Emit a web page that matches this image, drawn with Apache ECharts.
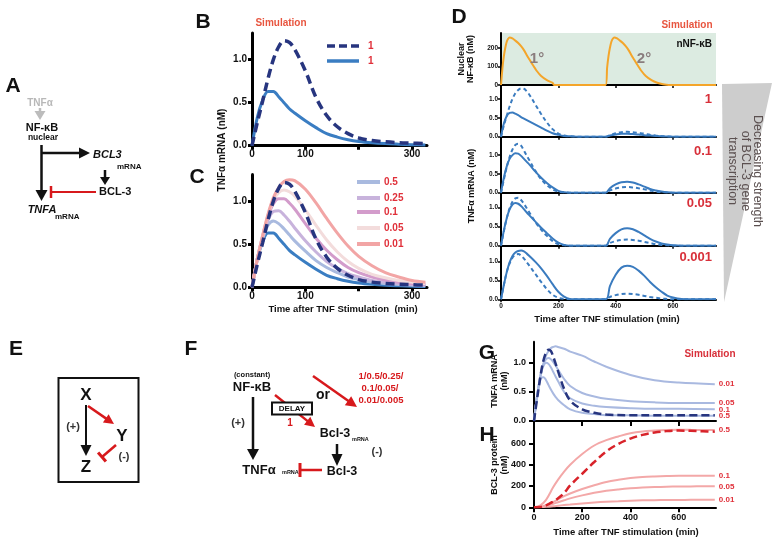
<!DOCTYPE html>
<html><head><meta charset="utf-8">
<script src="https://cdn.jsdelivr.net/npm/echarts@6/dist/echarts.min.js"></script>
<style>html,body{margin:0;padding:0;background:#fff}#c{width:772px;height:545px}</style>
</head><body><div id="c"></div>
<script>
// ---------- DATA ----------
// Panels B / C : TNFa mRNA (nM) vs time (min)
const tBC = [0,10,20,30,40,50,60,70,80,100,120,140,160,180,200,225,250,275,300,325];
const bcDelay = [0,0.27,0.52,0.78,1.0,1.15,1.22,1.2,1.12,0.87,0.56,0.35,0.22,0.14,0.09,0.06,0.045,0.035,0.03,0.025];
const bcOne   = [0,0.33,0.53,0.63,0.63,0.57,0.5,0.43,0.38,0.29,0.21,0.14,0.1,0.07,0.05,0.035,0.025,0.018,0.012,0.008];
const c05  = [0,0.33,0.56,0.72,0.77,0.74,0.68,0.61,0.54,0.42,0.31,0.23,0.17,0.12,0.09,0.06,0.045,0.033,0.025,0.018];
const c025 = [0,0.33,0.58,0.78,0.88,0.89,0.84,0.77,0.69,0.54,0.41,0.3,0.22,0.16,0.12,0.08,0.06,0.045,0.033,0.025];
const c01  = [0,0.33,0.6,0.82,0.97,1.03,1.03,0.98,0.91,0.74,0.57,0.43,0.32,0.23,0.17,0.12,0.085,0.06,0.045,0.035];
const c005 = [0,0.33,0.6,0.84,1.01,1.1,1.13,1.11,1.06,0.9,0.72,0.55,0.41,0.3,0.22,0.15,0.11,0.08,0.06,0.045];
const c001 = [0,0.33,0.6,0.85,1.04,1.16,1.23,1.25,1.24,1.14,0.98,0.8,0.63,0.48,0.36,0.25,0.17,0.12,0.08,0.06];
const legendC = ['0.5','0.25','0.1','0.05','0.01'];
const bcXTicks = [0,100,200,300];
const bcXLabels = [0,100,300];
const bcYTicks = [0,0.5,1.0];

// Panel D : nuclear NF-kB (nM)
const tNF = [0,5,10,15,20,25,30,40,50,60,70,80,90,100,110,125,140,160,180,185,365,370,375,380,385,390,395,405,415,425,435,445,455,465,475,490,505,525,545,565,585,750];
const nfkb = [0,90,155,200,232,248,255,250,238,225,208,187,160,135,110,75,48,26,12,0,0,90,155,200,232,248,255,250,238,225,208,187,160,135,110,75,48,26,12,4,0,0];
// Panel D : TNFa mRNA (nM), solid and dashed, per BCL-3 strength
const tD = [0,10,20,30,40,50,60,70,80,90,100,120,140,160,180,200,220,240,280,365,380,400,420,440,460,480,500,520,540,560,580,600,630,660,750];
const d1s = [0,0.35,0.55,0.63,0.64,0.61,0.57,0.52,0.48,0.44,0.40,0.32,0.24,0.16,0.09,0.05,0.02,0.01,0,0,0.03,0.06,0.08,0.08,0.07,0.06,0.04,0.03,0.02,0.01,0.005,0,0,0,0];
const d1d = [0,0.3,0.55,0.8,1.0,1.15,1.24,1.28,1.27,1.2,1.1,0.85,0.6,0.38,0.2,0.08,0.03,0.01,0,0,0.04,0.09,0.12,0.13,0.12,0.1,0.08,0.05,0.03,0.015,0.005,0,0,0,0];
const d01s = [0,0.4,0.7,0.9,1.0,1.05,1.04,0.98,0.9,0.82,0.74,0.56,0.4,0.26,0.14,0.05,0.01,0,0,0,0.12,0.22,0.28,0.29,0.27,0.22,0.16,0.1,0.06,0.03,0.01,0,0,0,0];
const d01d = [0,0.35,0.68,0.95,1.15,1.27,1.3,1.25,1.12,0.98,0.85,0.58,0.36,0.2,0.09,0.03,0.01,0,0,0,0.06,0.11,0.14,0.15,0.14,0.12,0.09,0.06,0.03,0.015,0.005,0,0,0,0];
const d005s = [0,0.4,0.72,0.95,1.08,1.12,1.1,1.04,0.96,0.87,0.79,0.63,0.47,0.33,0.19,0.08,0.02,0,0,0,0.18,0.33,0.43,0.46,0.43,0.36,0.27,0.18,0.11,0.06,0.03,0.01,0,0,0];
const d005d = [0,0.38,0.72,0.98,1.15,1.24,1.26,1.2,1.1,0.98,0.86,0.62,0.42,0.26,0.12,0.04,0.01,0,0,0,0.07,0.12,0.15,0.16,0.15,0.13,0.1,0.07,0.04,0.02,0.01,0,0,0,0];
const d0001s = [0,0.38,0.72,0.98,1.15,1.24,1.28,1.29,1.27,1.21,1.14,0.99,0.82,0.62,0.4,0.2,0.07,0.01,0,0,0.35,0.65,0.84,0.89,0.86,0.76,0.62,0.46,0.32,0.2,0.1,0.05,0.01,0,0];
const d0001d = [0,0.38,0.72,0.95,1.1,1.18,1.2,1.16,1.08,0.98,0.88,0.67,0.46,0.27,0.12,0.04,0.01,0,0,0,0.06,0.11,0.14,0.15,0.14,0.12,0.09,0.06,0.04,0.02,0.01,0,0,0,0];
const dPanelLabels = ['1','0.1','0.05','0.001'];
const dXTicks = [0,200,400,600];
const nfYTicks = [0,100,200];
const dYTicks = [0,0.5,1.0];

// Panel G : TNFA mRNA (nM)
const tG = [0,10,20,30,40,50,60,70,80,90,100,125,150,200,250,300,400,500,600,750];
const g001 = [0,0.35,0.62,0.84,1.0,1.12,1.2,1.25,1.27,1.28,1.27,1.24,1.19,1.12,1.02,0.93,0.79,0.7,0.66,0.63];
const g005 = [0,0.35,0.62,0.84,0.98,1.06,1.08,1.06,1.01,0.95,0.88,0.72,0.6,0.48,0.42,0.38,0.34,0.32,0.31,0.31];
const g01  = [0,0.35,0.62,0.83,0.95,1.0,0.98,0.92,0.84,0.76,0.68,0.5,0.39,0.3,0.26,0.24,0.22,0.21,0.21,0.2];
const g05  = [0,0.35,0.6,0.74,0.75,0.7,0.62,0.54,0.47,0.41,0.36,0.27,0.2,0.14,0.12,0.1,0.1,0.09,0.09,0.09];
const gDelay = [0,0.3,0.58,0.85,1.05,1.17,1.22,1.2,1.1,0.98,0.85,0.55,0.35,0.2,0.14,0.11,0.1,0.1,0.1,0.1];
// Panel H : BCL-3 protein (nM)
const tH = [0,25,50,80,100,125,150,200,250,300,350,400,450,500,550,600,650,700,750];
const h05 = [0,15,70,190,260,335,400,500,580,630,665,695,712,720,726,728,727,726,725];
const hDelay = [0,3,18,55,85,135,205,315,425,525,595,645,680,703,715,720,718,714,710];
const h01 = [0,5,20,50,75,105,130,172,207,237,258,275,285,290,293,295,295,295,295];
const h005 = [0,3,13,33,48,66,84,112,136,155,168,178,185,190,193,195,196,197,197];
const h001 = [0,1,4,10,15,21,26,36,45,52,57,62,65,67,68,69,70,70,70];
const ghXTicks = [0,200,400,600];
const gYTicks = [0,0.5,1.0];
const hYTicks = [0,200,400,600];

// ---------- CHART ----------
const FONT = '"Liberation Sans", Arial, Helvetica, sans-serif';
const RED = '#e0303a';
function zip(xs, ys){ return xs.map((x,i)=>[x, ys[i]]); }
const f1 = v => v.toFixed(1);
const f0 = v => String(v);

const grids = [
  {left:252, top:33, width:175, height:112.7},
  {left:252, top:174.6, width:175, height:112.7},
  {left:501, top:33, width:215, height:52, show:true, backgroundColor:'#dcebe1', borderWidth:0},
  {left:501, top:85, width:215, height:51.7},
  {left:501, top:136.7, width:215, height:56},
  {left:501, top:192.7, width:215, height:53},
  {left:501, top:245.7, width:215, height:53.6},
  {left:534, top:341.7, width:182, height:79.3},
  {left:534, top:421, width:182, height:86.3}
].map(g => Object.assign({outerBoundsMode:'none', containLabel:false}, g));

const stBC = {lw:3, tl:4, tw:3, lm:5, fs:10};
const stD  = {lw:2, tl:3, tw:1.5, lm:3, fs:6.5};
const stGH = {lw:2, tl:5, tw:2, lm:8, fs:9};
function axis(gi, max, ticks, labels, st, fmt, lm){
  return {
    gridIndex:gi, type:'value', min:0, max:max,
    axisLine:{show:true, onZero:false, lineStyle:{color:'#000', width:st.lw}},
    axisTick:{show:ticks.length>0, customValues:ticks, length:st.tl, lineStyle:{color:'#000', width:st.tw}},
    axisLabel:{show:labels.length>0, customValues:labels, margin:(lm!=null?lm:st.lm), fontSize:st.fs, fontWeight:'bold', color:'#111', fontFamily:FONT, formatter:fmt},
    splitLine:{show:false}
  };
}
const xAxes = [
  axis(0, 328, bcXTicks, bcXLabels, stBC, f0, 4),
  axis(1, 328, bcXTicks, bcXLabels, stBC, f0, 4),
  axis(2, 750, dXTicks, [], stD, f0),
  axis(3, 750, dXTicks, [], stD, f0),
  axis(4, 750, dXTicks, [], stD, f0),
  axis(5, 750, dXTicks, [], stD, f0),
  axis(6, 750, dXTicks, dXTicks, stD, f0),
  axis(7, 755, ghXTicks.slice(1), [], stGH, f0),
  axis(8, 755, ghXTicks, ghXTicks, stGH, f0, 6)
];
const yAxes = [
  axis(0, 1.31, bcYTicks, bcYTicks, stBC, f1),
  axis(1, 1.31, bcYTicks, bcYTicks, stBC, f1),
  axis(2, 279, nfYTicks, nfYTicks, stD, f0),
  axis(3, 1.37, dYTicks, dYTicks, stD, f1),
  axis(4, 1.49, dYTicks, dYTicks, stD, f1),
  axis(5, 1.39, dYTicks, dYTicks, stD, f1),
  axis(6, 1.42, dYTicks, dYTicks, stD, f1),
  axis(7, 1.36, gYTicks, gYTicks, stGH, f1),
  axis(8, 810, hYTicks, hYTicks, stGH, f0)
];

function ln(gi, xs, ys, color, w, dash, z, name, endLabel, smooth){
  const s = {type:'line', name:name||'', xAxisIndex:gi, yAxisIndex:gi, data:zip(xs, ys),
    showSymbol:false, symbol:'none', smooth:(smooth!=null?smooth:0.35), silent:true, z:z||2,
    lineStyle:{color:color, width:w, type:dash||'solid'}};
  if (endLabel) s.endLabel = {show:true, formatter:'{a}', color:RED, fontSize:8, fontWeight:'bold', fontFamily:FONT, distance:4};
  return s;
}
const NAVY = '#27357f', BLUE = '#3a7dc2', DBLUE = '#3a7bbf';
const colC = ['#a9badf','#c8b3dc','#d39ccb','#f3dcdc','#f2a5a5'];
const LBLUE = '#a9b9e0', LRED = '#f3a8a8', DRED = '#d8232a';
const series = [
  ln(0, tBC, bcOne, BLUE, 3, null, 2),
  ln(0, tBC, bcDelay, NAVY, 3.5, [9,5], 3),
  ln(1, tBC, bcOne, BLUE, 3, null, 2),
  ln(1, tBC, c05, colC[0], 3, null, 2),
  ln(1, tBC, c025, colC[1], 3, null, 2),
  ln(1, tBC, c01, colC[2], 3, null, 2),
  ln(1, tBC, c005, colC[3], 3, null, 2),
  ln(1, tBC, c001, colC[4], 3, null, 2),
  ln(1, tBC, bcDelay, NAVY, 3.5, [9,5], 3),
  ln(2, tNF, nfkb, '#f4a52a', 2, null, 3, '', false, 0.2),
  ln(3, tD, d1s, DBLUE, 2, null, 2), ln(3, tD, d1d, DBLUE, 2, [4,3], 2),
  ln(4, tD, d01s, DBLUE, 2, null, 2), ln(4, tD, d01d, DBLUE, 2, [4,3], 2),
  ln(5, tD, d005s, DBLUE, 2, null, 2), ln(5, tD, d005d, DBLUE, 2, [4,3], 2),
  ln(6, tD, d0001s, DBLUE, 2, null, 2), ln(6, tD, d0001d, DBLUE, 2, [4,3], 2),
  ln(7, tG, g001, LBLUE, 2, null, 2, '0.01', true),
  ln(7, tG, g005, LBLUE, 2, null, 2, '0.05', true),
  ln(7, tG, g01, LBLUE, 2, null, 2, '0.1', true),
  ln(7, tG, g05, LBLUE, 2, null, 2, '0.5', true),
  ln(7, tG, gDelay, NAVY, 2.5, [8,4], 3),
  ln(8, tH, h05, LRED, 2, null, 2, '0.5', true),
  ln(8, tH, h01, LRED, 2, null, 2, '0.1', true),
  ln(8, tH, h005, LRED, 2, null, 2, '0.05', true),
  ln(8, tH, h001, LRED, 2, null, 2, '0.01', true),
  ln(8, tH, hDelay, DRED, 2.5, [8,4], 3)
];

// ---------- GRAPHIC (diagrams, titles, legends) ----------
const GR = [];
function T(text, x, y, o){ o = o||{};
  GR.push({type:'text', x:x, y:y, rotation:o.rot||0, z:100, silent:true,
    style:{text:text, fill:o.c||'#111', font:(o.it?'italic ':'')+(o.w||'bold')+' '+(o.s||10)+'px '+FONT,
      align:o.a||'center', verticalAlign:'middle', lineHeight:o.lh||undefined}}); }
function L(x1,y1,x2,y2,c,w,dash){ GR.push({type:'line', z:100, silent:true, shape:{x1,y1,x2,y2}, style:{stroke:c, lineWidth:w, lineDash:dash||null}}); }
function P(pts,c,z){ GR.push({type:'polygon', z:z||100, silent:true, shape:{points:pts}, style:{fill:c}}); }
function R(x,y,w,h,stroke,lw,fill){ GR.push({type:'rect', z:100, silent:true, shape:{x,y,width:w,height:h}, style:{stroke:stroke, lineWidth:lw, fill:fill||'none'}}); }
function arrow(x1,y1,x2,y2,c,w,hl,hw){
  const dx=x2-x1, dy=y2-y1, len=Math.hypot(dx,dy), ux=dx/len, uy=dy/len;
  const bx=x2-ux*hl, by=y2-uy*hl;
  L(x1,y1,bx+ux*1,by+uy*1,c,w);
  P([[x2,y2],[bx-uy*hw/2,by+ux*hw/2],[bx+uy*hw/2,by-ux*hw/2]],c);
}
function inhib(x1,y1,x2,y2,c,w,bl){
  const dx=x2-x1, dy=y2-y1, len=Math.hypot(dx,dy), ux=dx/len, uy=dy/len;
  L(x1,y1,x2,y2,c,w);
  L(x2-uy*bl/2, y2+ux*bl/2, x2+uy*bl/2, y2-ux*bl/2, c, w+0.5);
}
const BLK = '#111', RD = '#d7191c';

// panel letters
[['A',13,86],['B',203,22],['C',197,177],['D',459,17],['E',16,349],['F',191,349],['G',487,353],['H',487,435]]
  .forEach(a => T(a[0], a[1], a[2], {s:21}));

// A diagram
T('TNFα', 40, 103, {c:'#b8b8b8', s:10});
arrow(40, 108, 40, 120, '#bcbcbc', 2.5, 9, 11);
T('NF-κB', 42, 128, {s:11});
T('nuclear', 43, 138, {s:8.5});
arrow(41.5, 145, 41.5, 201, BLK, 2.5, 11, 12);
arrow(41.5, 153, 90, 153, BLK, 2.5, 11, 11);
T('BCL3', 93, 155, {s:11, it:true, a:'left'});
T('mRNA', 117, 167, {s:8, a:'left'});
arrow(105, 170, 105, 185, BLK, 2.5, 8, 10);
T('BCL-3', 99, 192, {s:11, a:'left'});
inhib(96, 192, 51, 192, RD, 2, 12);
T('TNFA', 42, 210, {s:11, it:true});
T('mRNA', 55, 217, {s:8, a:'left'});

// E diagram
R(58.5, 378, 80, 104, BLK, 2);
T('X', 86, 395, {s:17});
arrow(86, 405, 86, 456, BLK, 2, 11, 11);
T('Z', 86, 467, {s:17});
T('(+)', 73, 427, {s:11, c:'#333'});
arrow(88, 406, 114, 424, RD, 2.5, 10, 10);
T('Y', 122, 436, {s:17});
inhib(116, 445, 102, 457, RD, 2.5, 12);
T('(-)', 124, 457, {s:11, c:'#333'});

// F diagram
T('(constant)', 252, 375, {s:7.5});
T('NF-κB', 252, 387, {s:13});
arrow(253, 397, 253, 460, BLK, 2.5, 11, 12);
T('(+)', 238, 423, {s:11, c:'#333'});
T('TNFα', 259, 470, {s:13});
T('mRNA', 282, 472, {s:5.5, a:'left'});
inhib(322, 470, 300, 470, RD, 2.5, 14);
T('Bcl-3', 342, 471.5, {s:12.5});
arrow(337, 444, 337, 466, BLK, 2.5, 12, 11);
T('Bcl-3', 335, 434, {s:12.5});
T('mRNA', 352, 439, {s:5.5, a:'left'});
T('(-)', 377, 452, {s:11, c:'#333'});
arrow(275, 395, 315, 427, RD, 2.5, 10, 10);
R(272, 402.5, 40, 12, BLK, 2, '#fff');
T('DELAY', 292, 408.7, {s:8});
T('1', 290, 423, {s:10, c:RD});
T('or', 323, 395, {s:14});
arrow(313, 376, 357, 407, RD, 2.5, 11, 11);
T('1/0.5/0.25/', 381, 376, {s:9.5, c:RD});
T('0.1/0.05/', 380, 388, {s:9.5, c:RD});
T('0.01/0.005', 381, 400, {s:9.5, c:RD});

// B / C texts and legends
T('Simulation', 281, 23, {s:10, c:'#e8553f'});
T('TNFα mRNA (nM)', 222, 150, {s:10, rot:Math.PI/2});
T('Time after TNF Stimulation  (min)', 343, 309, {s:9.5});
L(327, 46, 359, 46, NAVY, 3.5, [8,4]);
L(327, 61, 359, 61, BLUE, 3.5);
T('1', 368, 46, {s:10, c:RED, a:'left'});
T('1', 368, 61, {s:10, c:RED, a:'left'});
legendC.forEach((nm, i) => {
  const y = [182, 198, 212, 228, 244][i];
  L(357, y, 380, y, colC[i], 4);
  T(nm, 384, y, {s:10, c:RED, a:'left'});
});

// D texts
T('Simulation', 687, 25, {s:10, c:'#e8553f'});
T('nNF-κB', 712, 44, {s:10, a:'right'});
T('1°', 537, 59, {s:15, c:'#8a7d7e'});
T('2°', 644, 59, {s:15, c:'#8a7d7e'});
T('Nuclear\nNF-κB (nM)', 466, 59, {s:9, rot:Math.PI/2, lh:9});
T('TNFα mRNA (nM)', 472, 186, {s:9, rot:Math.PI/2});
T('Time after TNF stimulation (min)', 607, 319, {s:9.5});
dPanelLabels.forEach((nm, i) => T(nm, 712, [99, 151, 203, 257][i], {s:13, c:'#d8303a', a:'right'}));
P([[722,84],[772,83],[724,302]], '#cdcdcd', 90);
T('Decreasing strength\nof BCL-3 gene\ntranscription', 745, 171, {s:12.5, w:'normal', c:'#5b5050', rot:-Math.PI/2, lh:12.5});

// G / H texts
T('Simulation', 710, 354, {s:10, c:'#d8303a'});
T('TNFA mRNA\n(nM)', 500, 381, {s:9, rot:Math.PI/2, lh:10});
T('BCL-3 protein\n(nM)', 500, 465, {s:9, rot:Math.PI/2, lh:10});
T('Time after TNF stimulation (min)', 626, 532, {s:9.5});

const chart = echarts.init(document.getElementById('c'), null, {renderer:'canvas'});
chart.setOption({
  animation:false,
  backgroundColor:'#fff',
  textStyle:{fontFamily:FONT},
  grid:grids, xAxis:xAxes, yAxis:yAxes, series:series,
  graphic:{elements:GR}
});
</script>
</body></html>
